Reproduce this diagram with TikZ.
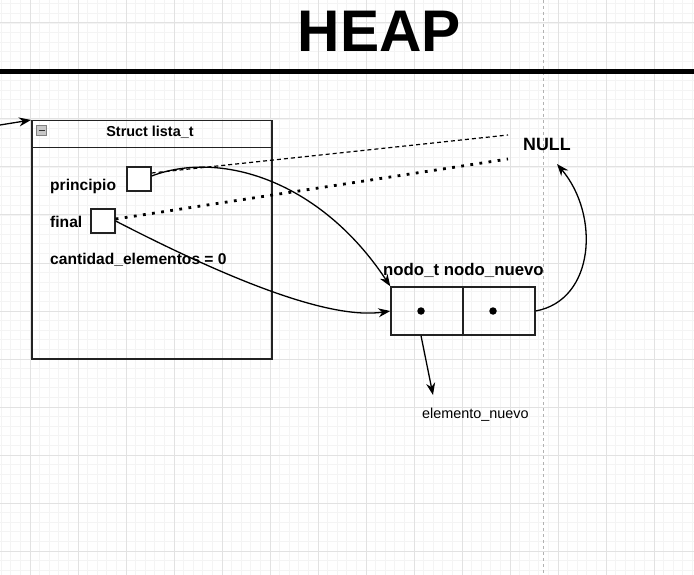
\documentclass[tikz,border=0pt]{standalone}
\usepackage{fontspec}
\setmainfont{Liberation Sans}
\usetikzlibrary{arrows.meta}
\definecolor{gmin}{HTML}{F4F4F4}
\definecolor{gmaj}{HTML}{E2E2E2}
\definecolor{dk}{HTML}{222222}
\begin{document}
\begin{tikzpicture}[x=1pt,y=-1pt,
  minorg/.style={draw=gmin,line width=0.8pt},
  majorg/.style={draw=gmaj,line width=1pt},
  lbl/.style={font=\bfseries\fontsize{15.6}{18}\selectfont, inner sep=0, anchor=base west},
  ptrbox/.style={draw=dk, fill=white, line width=1.3pt, minimum size=24pt, inner sep=0},
  cell/.style={draw=dk, line width=1.4pt, minimum width=72pt, minimum height=48pt, inner sep=0},
  dotn/.style={circle, fill=black, minimum size=7.5pt, inner sep=0},
  arr/.style={line width=1.3pt, -{Stealth[length=12pt,width=9pt]}},
]
\useasboundingbox (0,0) rectangle (694,575);
\clip (0,0) rectangle (694,575);
\fill[white] (0,0) rectangle (694,575);
% grid
\foreach \i in {-4,...,70} { \draw[minorg] ({30+9.6*\i},0) -- ({30+9.6*\i},575); }
\foreach \j in {-3,...,60} { \draw[minorg] (0,{23+9.6*\j}) -- (694,{23+9.6*\j}); }
\foreach \i in {-1,...,14} { \draw[majorg] ({30+48*\i},0) -- ({30+48*\i},575); }
\foreach \j in {-1,...,12} { \draw[majorg] (0,{23+48*\j}) -- (694,{23+48*\j}); }
% page divider
\draw[draw=black!30, line width=0.9pt, dash pattern=on 3pt off 3pt] (543,0) -- (543,575);
% title
\node[font=\bfseries\fontsize{58.7}{60}\selectfont, inner sep=0, anchor=base] (heap) at (379.5,52) {HEAP};
\draw[line width=4.2pt] (0,71.5) -- (694,71.5);
% struct
\node[draw=dk, line width=1.5pt, minimum width=240pt, minimum height=238pt, anchor=north west, inner sep=0] (st) at (31,120) {};
\node[draw=dk, line width=1.5pt, minimum width=240pt, minimum height=27pt, anchor=north west, inner sep=0] (hdr) at (31,120) {};
\node[draw=black!50, fill=black!22, minimum size=10pt, inner sep=0] (icon) at (41.5,130.5) {};
\draw[line width=1.5pt, black!80] ([xshift=-3pt]icon.center) -- ([xshift=3pt]icon.center);
\node[font=\bfseries\fontsize{14.4}{16}\selectfont, inner sep=0, anchor=base] (title) at (150,137) {Struct lista\_t};
\node[lbl] (lp) at (50,190) {principio};
\node[lbl] (lf) at (50,227) {final};
\node[lbl] (lc) at (50,264) {cantidad\_elementos = 0};
\node[ptrbox] (pb) at (139,179) {};
\node[ptrbox] (fb) at (103,221) {};
% NULL
\node[font=\bfseries\fontsize{17.8}{20}\selectfont, inner sep=0, anchor=base west] (nul) at (523,151) {NULL};
\coordinate (nt) at (557,164);
\coordinate (n1) at (508,135);
\coordinate (n2) at (508,159);
% nodo
\node[font=\bfseries\fontsize{16.8}{19}\selectfont, inner sep=0, anchor=base west] (nlab) at (383,275) {nodo\_t nodo\_nuevo};
\node[cell] (c1) at (427,311) {};
\node[cell] (c2) at (499,311) {};
\node[dotn] (d1) at (421,311) {};
\node[dotn] (d2) at (493,311) {};
\node[font=\fontsize{14.4}{16}\selectfont, inner sep=0, anchor=base west] (el) at (422,418) {elemento\_nuevo};
\coordinate (elt) at (433,395);
\coordinate (in) at (0,125);
% connectors
\draw[arr] (in) -- (st.north west);
\draw[line width=1.2pt, dash pattern=on 4pt off 3pt] ([yshift=6pt]pb.east) -- (n1);
\draw[line width=2.8pt, dash pattern=on 2.8pt off 6.4pt] ([yshift=2pt]fb.east) -- (n2);
\draw[arr] ([yshift=3pt]pb.east) .. controls (220,150) and (320,180) .. (c1.north west);
\draw[arr] (fb.east) .. controls (230,280) and (330,320) .. (c1.west);
\draw[arr] (c2.east) .. controls (595,300) and (600,215) .. (nt);
\draw[arr] (d1 |- c1.south) -- (elt);
\end{tikzpicture}
\end{document}
